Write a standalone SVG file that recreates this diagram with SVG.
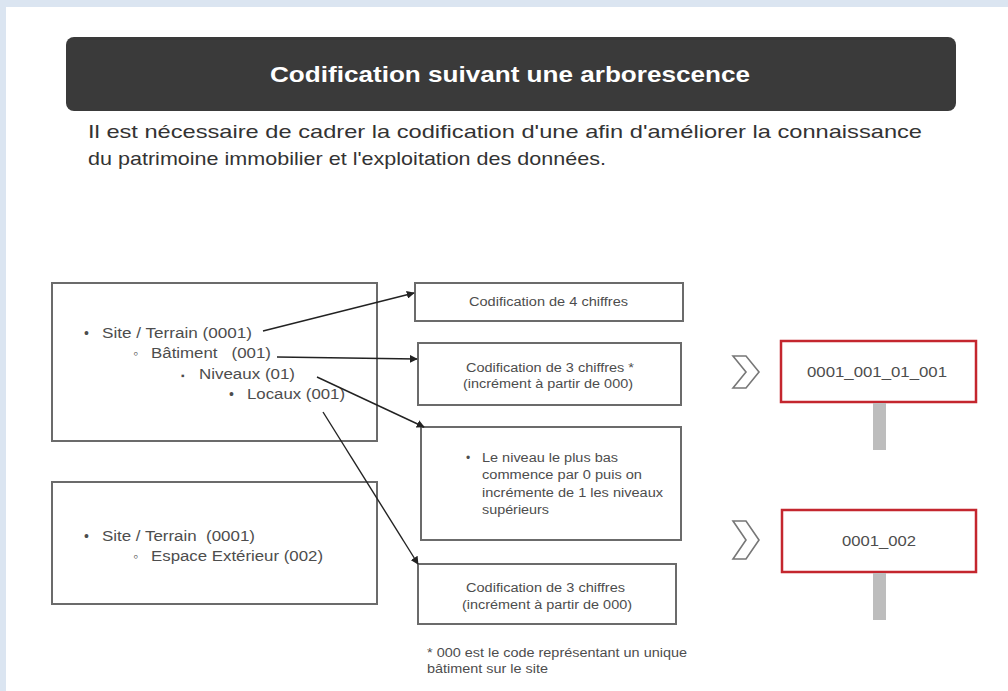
<svg xmlns="http://www.w3.org/2000/svg" width="1008" height="691" viewBox="0 0 1008 691" xml:space="preserve">
<style>
.box{fill:#fff;stroke:#6b6b6b;stroke-width:2}
.red{fill:#fff;stroke:#c4262e;stroke-width:2.5}
.t{font-family:"Liberation Sans",Arial,sans-serif;fill:#4d4d4d;white-space:pre}
.b14{font-size:14px}
.s12{font-size:12px}
.mid{text-anchor:middle}
.conn{stroke:#222;stroke-width:1.4;fill:none;marker-end:url(#ah)}
.bar{fill:#bdbdbd}
.chev{fill:#fff;stroke:#777;stroke-width:1.6;stroke-linejoin:miter}
</style>
<defs>
<marker id="ah" viewBox="0 0 10 10" refX="9" refY="5" markerWidth="8" markerHeight="8" markerUnits="userSpaceOnUse" orient="auto">
<path d="M0,0 L10,5 L0,10 z" fill="#222"/>
</marker>
</defs>
<rect x="0" y="0" width="1008" height="691" fill="#dbe5f1"/>
<rect x="6" y="7" width="1002" height="684" fill="#fff"/>
<g id="title">
<rect x="66" y="37" width="890" height="74" rx="8" fill="#3a3a3a"/>
<text x="510" y="82" class="mid" font-family="Liberation Sans, Arial, sans-serif" font-weight="bold" font-size="22" fill="#fff" textLength="480" lengthAdjust="spacingAndGlyphs">Codification suivant une arborescence</text>
</g>
<g id="intro" font-family="Liberation Sans, Arial, sans-serif" font-size="19" fill="#333">
<text x="88" y="138" textLength="834" lengthAdjust="spacingAndGlyphs">Il est nécessaire de cadrer la codification d'une afin d'améliorer la connaissance</text>
<text x="88" y="165" textLength="518" lengthAdjust="spacingAndGlyphs">du patrimoine immobilier et l'exploitation des données.</text>
</g>
<g id="tree1">
<rect class="box" x="52" y="283" width="325" height="158"/>
<text class="t b14" x="84" y="338">•</text><text class="t b14" x="102" y="338" textLength="150" lengthAdjust="spacingAndGlyphs">Site / Terrain (0001)</text>
<text class="t b14" x="133" y="358" fill="#999">◦</text><text class="t b14" x="151" y="358" textLength="120" lengthAdjust="spacingAndGlyphs">Bâtiment   (001)</text>
<text class="t" x="181" y="379" font-size="10">▪</text><text class="t b14" x="199" y="379" textLength="96" lengthAdjust="spacingAndGlyphs">Niveaux (01)</text>
<text class="t b14" x="229" y="399">•</text><text class="t b14" x="247" y="399" textLength="98" lengthAdjust="spacingAndGlyphs">Locaux (001)</text>
</g>
<g id="tree2">
<rect class="box" x="52" y="482" width="325" height="122"/>
<text class="t b14" x="84" y="541">•</text><text class="t b14" x="102" y="541" textLength="153" lengthAdjust="spacingAndGlyphs">Site / Terrain  (0001)</text>
<text class="t b14" x="133" y="561" fill="#999">◦</text><text class="t b14" x="151" y="561" textLength="172" lengthAdjust="spacingAndGlyphs">Espace Extérieur (002)</text>
</g>
<g id="boxA">
<rect class="box" x="415" y="283" width="268" height="38"/>
<text class="t s12" x="469" y="306" textLength="159" lengthAdjust="spacingAndGlyphs">Codification de 4 chiffres</text>
</g>
<g id="boxB">
<rect class="box" x="418" y="343" width="263" height="62"/>
<text class="t s12" x="466" y="372" textLength="168" lengthAdjust="spacingAndGlyphs">Codification de 3 chiffres *</text>
<text class="t s12" x="463" y="388" textLength="170" lengthAdjust="spacingAndGlyphs">(incrément à partir de 000)</text>
</g>
<g id="boxC">
<rect class="box" x="421" y="427" width="260" height="113"/>
<text class="t s12" x="466" y="462">•</text>
<text class="t s12" x="482" y="462" textLength="136" lengthAdjust="spacingAndGlyphs">Le niveau le plus bas</text>
<text class="t s12" x="482" y="479" textLength="160" lengthAdjust="spacingAndGlyphs">commence par 0 puis on</text>
<text class="t s12" x="482" y="497" textLength="181" lengthAdjust="spacingAndGlyphs">incrémente de 1 les niveaux</text>
<text class="t s12" x="482" y="514" textLength="67" lengthAdjust="spacingAndGlyphs">supérieurs</text>
</g>
<g id="boxD">
<rect class="box" x="418" y="564" width="258" height="60"/>
<text class="t s12" x="466" y="592" textLength="159" lengthAdjust="spacingAndGlyphs">Codification de 3 chiffres</text>
<text class="t s12" x="462" y="609" textLength="170" lengthAdjust="spacingAndGlyphs">(incrément à partir de 000)</text>
</g>
<g id="note">
<text class="t s12" x="427" y="657" textLength="260" lengthAdjust="spacingAndGlyphs">* 000 est le code représentant un unique</text>
<text class="t s12" x="427" y="673" textLength="121" lengthAdjust="spacingAndGlyphs">bâtiment sur le site</text>
</g>
<g id="code1">
<path class="chev" d="M733,356 L746,356 L759,372 L746,388 L733,388 L746,372 Z"/>
<rect class="red" x="781" y="341" width="195" height="61"/>
<text class="t mid" x="877" y="377" font-size="15" textLength="140" lengthAdjust="spacingAndGlyphs">0001_001_01_001</text>
<rect class="bar" x="873" y="403" width="13" height="47"/>
</g>
<g id="code2">
<path class="chev" d="M733,521 L746,521 L759,540 L746,559 L733,559 L746,540 Z"/>
<rect class="red" x="782" y="510" width="194" height="62"/>
<text class="t mid" x="879" y="546" font-size="15" textLength="74" lengthAdjust="spacingAndGlyphs">0001_002</text>
<rect class="bar" x="873" y="573" width="13" height="47"/>
</g>
<g id="connectors">
<line class="conn" x1="263" y1="331" x2="414" y2="293"/>
<line class="conn" x1="277" y1="357" x2="417" y2="359"/>
<line class="conn" x1="317" y1="377" x2="424" y2="427"/>
<line class="conn" x1="323" y1="412" x2="418" y2="564"/>
</g>
</svg>
